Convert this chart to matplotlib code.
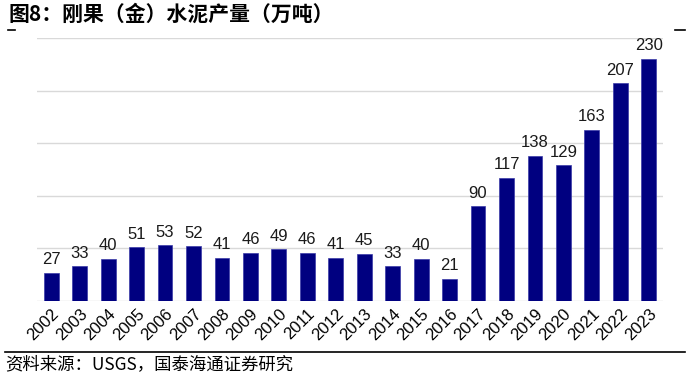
import matplotlib
matplotlib.use("Agg")
import matplotlib.pyplot as plt
from matplotlib.lines import Line2D

plt.rcParams['font.family'] = ['Liberation Sans', 'Noto Sans CJK SC', 'DejaVu Sans']

# data
years = [str(y) for y in range(2002, 2024)]
output = [27, 33, 40, 51, 53, 52, 41, 46, 49, 46, 41, 45, 33, 40, 21,
          90, 117, 138, 129, 163, 207, 230]
title = "图8：刚果（金）水泥产量（万吨）"
source = "资料来源：USGS，国泰海通证券研究"

fig = plt.figure(figsize=(6.92, 3.79), dpi=100)

# title rule (only its ends show) and source rule
ty = 1 - 30/379
fig.add_artist(Line2D([8/692, 15/692], [ty, ty], color="black", lw=1.2))
fig.add_artist(Line2D([675/692, 685/692], [ty, ty], color="black", lw=1.2))
fig.add_artist(Line2D([5/692, 685/692], [1 - 352/379, 1 - 352/379], color="black", lw=1.2))

ax = fig.add_axes([37/692, 1 - 301/379, 626/692, 263/379])

x = range(len(years))
ax.bar(x, output, width=0.52, color="#000080", edgecolor="#3a3aa8", linewidth=0.5, zorder=3)
for xi, v in zip(x, output):
    ax.annotate(str(v), (xi, v), xytext=(0, 4), textcoords="offset points",
                ha="center", va="bottom", fontsize=12, color="#1a1a1a")

ax.set_xlim(-0.5, 21.5)
ax.set_ylim(0, 250)
ax.set_yticks(range(0, 251, 50))
ax.set_yticklabels([])
ax.grid(axis="y", color="#d9d9d9", lw=1, zorder=0)
ax.set_xticks(list(x))
ax.set_xticklabels(years, rotation=45, ha="right", rotation_mode="anchor", fontsize=12)
ax.tick_params(length=0, pad=4)
for s in ax.spines.values():
    s.set_visible(False)

fig.text(8/692, 1 - 14/379, title, fontsize=15, fontweight="bold", va="center", ha="left",
         family=['Noto Sans CJK SC', 'DejaVu Sans'])
fig.text(5/692, 1 - 364/379, source, fontsize=12.5, va="center", ha="left",
         family=['Noto Sans CJK SC', 'DejaVu Sans'])

fig.savefig("out.png", dpi=100)
